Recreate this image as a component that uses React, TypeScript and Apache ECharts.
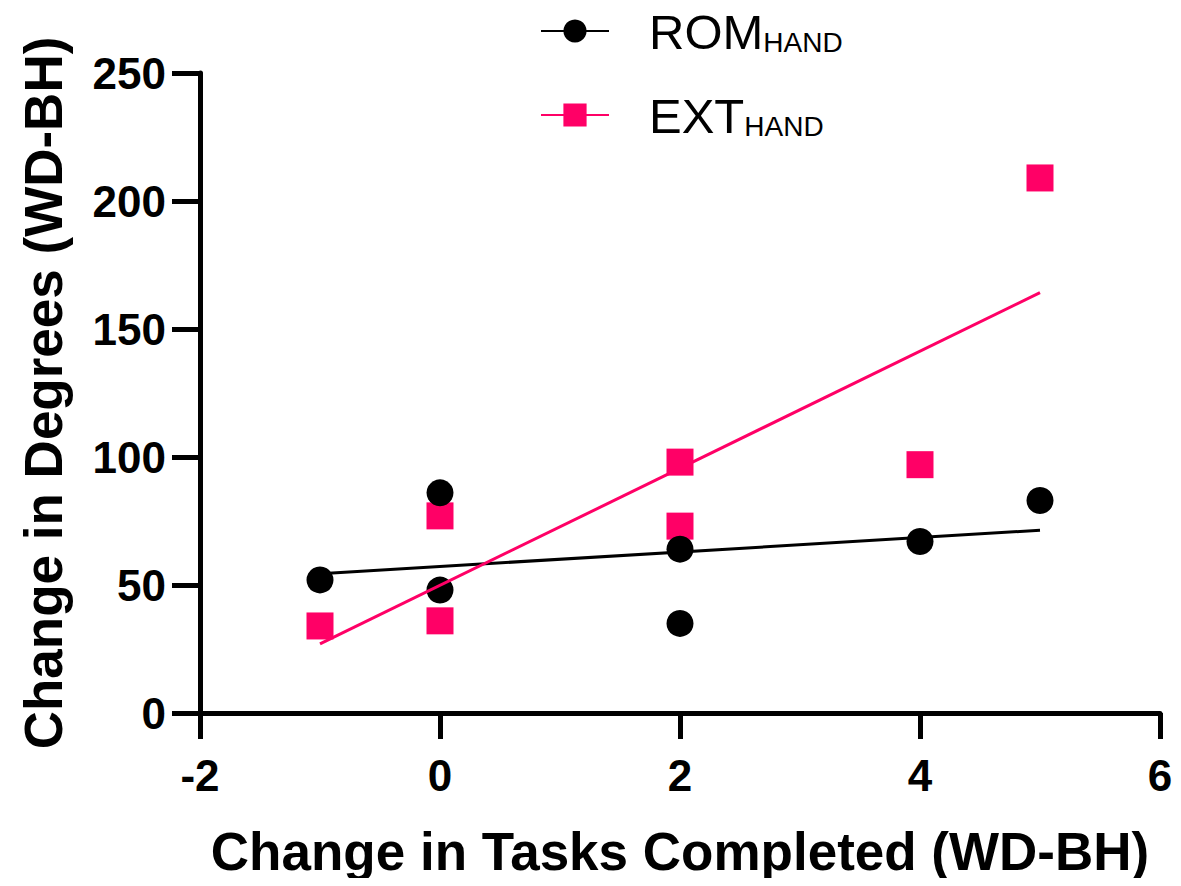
import React, { useEffect, useRef } from "react";
import * as echarts from "echarts";

const romPoints: [number, number][] = [
  [-1, 52], [0, 86], [0, 48], [2, 64], [2, 35], [4, 67], [5, 83],
];
const extPoints: [number, number][] = [
  [-1, 34], [0, 77], [0, 36], [2, 98], [2, 73], [4, 97], [5, 209],
];
const romFit: [number, number][] = [[-1, 54.4], [5, 71.4]];
const extFit: [number, number][] = [[-1, 27.0], [5, 164.2]];
const seriesNames = ["ROM", "EXT"];
const subscript = "HAND";
const xTitle = "Change in Tasks Completed (WD-BH)";
const yTitle = "Change in Degrees (WD-BH)";

const PINK = "#FF0066";
const FONT = "'Liberation Sans', Arial, Helvetica, sans-serif";

export default function App() {
  const ref = useRef<HTMLDivElement>(null);
  useEffect(() => {
    if (!ref.current) return;
    const chart = echarts.init(ref.current, null, { renderer: "svg" });
    const axisCommon = {
      axisLine: { show: true, onZero: false, lineStyle: { color: "#000", width: 5 } },
      axisTick: { show: true, inside: false, lineStyle: { color: "#000", width: 5 } },
      splitLine: { show: false },
      nameLocation: "middle" as const,
      nameTextStyle: { fontFamily: FONT, fontWeight: "bold" as const, fontSize: 53, color: "#000" },
    };
    chart.setOption({
      animation: false,
      backgroundColor: "#fff",
      textStyle: { fontFamily: FONT },
      grid: { left: 200, right: 21, top: 73, bottom: 173, containLabel: false },
      legend: {
        orient: "vertical",
        left: 540,
        top: 7,
        padding: 0,
        itemWidth: 68,
        itemHeight: 29,
        itemGap: 35,
        data: seriesNames,
        formatter: (name: string) => `{a|${name}}{b|${subscript}}`,
        textStyle: {
          rich: {
            a: { fontFamily: FONT, fontSize: 49, color: "#000", lineHeight: 50, verticalAlign: "bottom", padding: [0, 0, 0, 35] },
            b: { fontFamily: FONT, fontSize: 28, color: "#000", lineHeight: 37, verticalAlign: "bottom" },
          },
        },
      },
      xAxis: {
        ...axisCommon,
        type: "value",
        min: -2,
        max: 6,
        interval: 2,
        name: xTitle,
        nameGap: 112,
        axisTick: { ...axisCommon.axisTick, length: 26 },
        axisLabel: { fontFamily: FONT, fontWeight: "bold", fontSize: 44, color: "#000", margin: 40 },
      },
      yAxis: {
        ...axisCommon,
        type: "value",
        min: 0,
        max: 250,
        interval: 50,
        name: yTitle,
        nameGap: 130,
        axisTick: { ...axisCommon.axisTick, length: 28 },
        axisLabel: { fontFamily: FONT, fontWeight: "bold", fontSize: 44, color: "#000", margin: 34 },
      },
      series: [
        {
          name: "ROM",
          type: "line",
          data: romFit,
          symbol: "circle",
          showSymbol: false,
          lineStyle: { color: "#000", width: 3 },
          itemStyle: { color: "#000" },
          silent: true,
        },
        {
          name: "EXT",
          type: "line",
          data: extFit,
          symbol: "rect",
          showSymbol: false,
          lineStyle: { color: PINK, width: 3 },
          itemStyle: { color: PINK },
          silent: true,
        },
        {
          name: "EXT",
          type: "scatter",
          data: extPoints,
          symbol: "rect",
          symbolSize: 27,
          itemStyle: { color: PINK, opacity: 1 },
        },
        {
          name: "ROM",
          type: "scatter",
          data: romPoints,
          symbol: "circle",
          symbolSize: 27,
          itemStyle: { color: "#000", opacity: 1 },
        },
      ],
    });
    return () => chart.dispose();
  }, []);
  return <div ref={ref} style={{ width: 1181, height: 886, margin: -8 }} />;
}
